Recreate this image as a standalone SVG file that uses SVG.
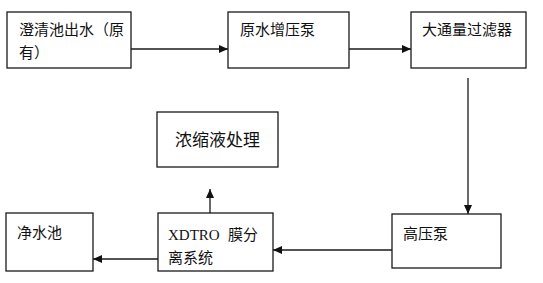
<svg xmlns="http://www.w3.org/2000/svg" width="543" height="283" viewBox="0 0 543 283">
<style>
.box{fill:#fff;stroke:#1a1a1a;stroke-width:1.3}
.t{font-family:"Noto Sans CJK SC","Liberation Sans",sans-serif;font-size:15px;fill:#111}
.s{font-family:"Liberation Serif",serif;font-size:15px;fill:#111}
.c{stroke:#1a1a1a;stroke-width:1.3;fill:none;marker-end:url(#ah)}
</style>
<defs>
<marker id="ah" markerWidth="9" markerHeight="8" refX="9" refY="4" orient="auto" markerUnits="userSpaceOnUse">
<path d="M0,0 L9,4 L0,8 Z" fill="#111"/>
</marker>
</defs>
<rect width="543" height="283" fill="#fff"/>
<g id="connectors">
<line class="c" x1="131" y1="49" x2="228" y2="49"/>
<line class="c" x1="349" y1="49" x2="411" y2="49"/>
<line class="c" x1="468" y1="78" x2="468" y2="214"/>
<line class="c" x1="392" y1="250" x2="273" y2="250"/>
<line class="c" x1="210" y1="213" x2="210" y2="189"/>
<line class="c" x1="158" y1="259" x2="93" y2="259"/>
</g>
<g id="n1">
<rect class="box" x="7" y="12" width="124" height="56"/>
<text class="t" x="19" y="35">澄清池出水（原</text>
<text class="t" x="19" y="58">有）</text>
</g>
<g id="n2">
<rect class="box" x="228" y="12" width="121" height="56"/>
<text class="t" x="240" y="35">原水增压泵</text>
</g>
<g id="n3">
<rect class="box" x="411" y="12" width="115" height="56"/>
<text class="t" x="422" y="35">大通量过滤器</text>
</g>
<g id="n4">
<rect class="box" x="157" y="112" width="121" height="55"/>
<text class="t" x="175" y="146" style="font-size:17px">浓缩液处理</text>
</g>
<g id="n5">
<rect class="box" x="392" y="214" width="109" height="54"/>
<text class="t" x="403" y="239">高压泵</text>
</g>
<g id="n6">
<rect class="box" x="158" y="213" width="115" height="58"/>
<text class="s" x="168" y="240">XDTRO</text>
<text class="t" x="228" y="240">膜分</text>
<text class="t" x="168" y="263">离系统</text>
</g>
<g id="n7">
<rect class="box" x="6" y="213" width="87" height="58"/>
<text class="t" x="17" y="238">净水池</text>
</g>
</svg>
